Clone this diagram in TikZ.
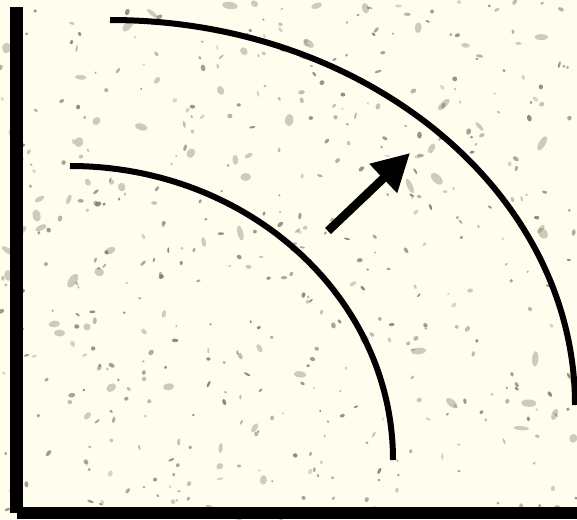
\documentclass[tikz,border=0pt]{standalone}
\usetikzlibrary{arrows.meta}
\definecolor{paper}{RGB}{255,254,238}
\definecolor{speck}{RGB}{110,110,95}
\tikzset{
  curve/.style={line width=6pt, black},
  frame/.style={fill=black},
  flow/.style={line width=8.5pt, black, -{Triangle[length=37pt,width=38pt]}}
}
\begin{document}
\begin{tikzpicture}[x=1pt,y=-1pt]
\fill[paper] (0,0) rectangle (577,519);
\useasboundingbox (0,0) rectangle (577,519);
\begin{scope}
\clip (0,0) rectangle (577,519);
\pgfmathsetseed{7}
\foreach \i in {1,...,460}{
  \pgfmathsetmacro\px{rnd*577}
  \pgfmathsetmacro\py{rnd*519}
  \pgfmathsetmacro\ra{1.0+rnd*2.6}
  \pgfmathsetmacro\rb{0.9+rnd*1.5}
  \pgfmathsetmacro\rt{rnd*180}
  \pgfmathsetmacro\op{0.25+rnd*0.55}
  \fill[speck, opacity=\op, rotate around={\rt:(\px,\py)}] (\px,\py) ellipse ({\ra pt} and {\rb pt});
}
\foreach \i in {1,...,70}{
  \pgfmathsetmacro\px{rnd*577}
  \pgfmathsetmacro\py{rnd*519}
  \pgfmathsetmacro\ra{3.5+rnd*4.5}
  \pgfmathsetmacro\rb{2+rnd*2.5}
  \pgfmathsetmacro\rt{rnd*180}
  \fill[speck, opacity=0.35, rotate around={\rt:(\px,\py)}] (\px,\py) ellipse ({\ra pt} and {\rb pt});
}
% frame
\fill[frame] (10,7) rectangle (23,513);
\fill[frame] (17,507) rectangle (577,519);
% arcs
\coordinate (innerstart) at (70,166);
\coordinate (outerstart) at (110,20);
\draw[curve] (innerstart) arc[start angle=90, end angle=0, x radius=323pt, y radius=294pt];
\draw[curve] (outerstart) arc[start angle=90, end angle=0, x radius=465pt, y radius=385pt];
% arrow
\coordinate (tail) at (328,231);
\coordinate (tip) at (410,153);
\draw[flow] (tail) -- (tip);
\end{scope}
\end{tikzpicture}
\end{document}
